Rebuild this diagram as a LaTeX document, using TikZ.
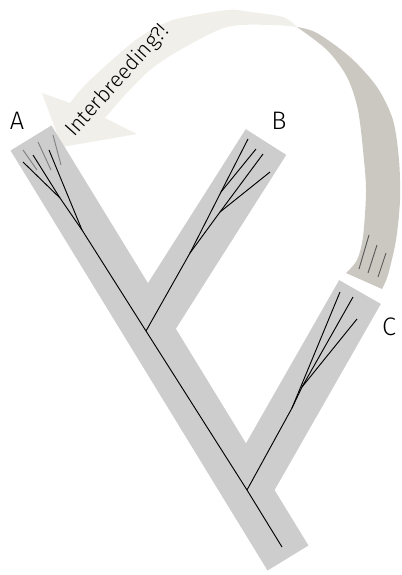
\documentclass[tikz,border=0pt]{standalone}
\usepackage{fontspec}
\setmainfont{Fira Sans Light}
\usetikzlibrary{positioning}
\definecolor{treegray}{RGB}{205,205,205}
\definecolor{ribbonlight}{RGB}{240,239,233}
\definecolor{ribbondark}{RGB}{203,200,193}
\begin{document}
\begin{tikzpicture}[x=0.75pt, y=-0.75pt,
    band/.style={draw=treegray, line width=36pt},
    lineage/.style={draw=black, line width=0.7pt},
    faint/.style={draw=gray, line width=0.7pt},
    trace/.style={draw=black!65, line width=0.7pt},
    lbl/.style={font=\fontsize{19}{19}\selectfont, inner sep=0pt}]
  \useasboundingbox (0,0) rectangle (401,575);

  % Interbreeding ribbon (back side)
  \fill[ribbondark] plot[smooth] coordinates {(297,27) (317,33) (350,57) (377,87) (393,120) (399,160) (400,200) (396,240) (388,275) (382,289)}
    -- (346,273) -- plot[smooth] coordinates {(346,273) (357,260) (363,237) (366,193) (364,160) (358,110) (347,77) (327,50) (297,27)} -- cycle;
  % Interbreeding ribbon (front side, arrow)
  \fill[ribbonlight] plot[smooth] coordinates {(297,27) (283,17) (250,12) (227,10) (173,20) (140,37) (112,60) (85,85) (70,103)}
    -- (42,93) -- (62,147) -- (137,134) -- (105,118)
    -- plot[smooth] coordinates {(105,118) (125,95) (150,70) (180,50) (227,27) (273,25) (297,27)} -- cycle;
  \node[rotate=48, anchor=base west, inner sep=0pt, font=\fontsize{16}{16}\selectfont] (ib) at (74,138) {Interbreeding?!};

  % Tree bands
  \coordinate (topA) at (31,138);
  \coordinate (bottom) at (288,558);
  \coordinate (topB) at (266,142);
  \coordinate (topC) at (360,292);
  \coordinate (jB) at (146,331);
  \coordinate (jC) at (247,490);
  \draw[band] (topA) -- (bottom);
  \draw[band] (topB) -- (jB);
  \draw[band] (topC) -- (jC);

  % Lineages of A
  \coordinate (a1) at (23,162);
  \coordinate (a2) at (33,155);
  \coordinate (a3) at (49,150);
  \coordinate (jA1) at (60,198);
  \coordinate (jA0) at (82,230);
  \coordinate (end) at (282,547);
  \draw[lineage] (a1) -- (jA1) -- (jA0) -- (jB) -- (jC) -- (end);
  \draw[lineage] (a2) -- (jA1);
  \draw[lineage] (a3) -- (jA0);
  \draw[faint] (23,150) -- (37,170);
  \draw[faint] (38,142) -- (51,170);
  \draw[faint] (53,135) -- (61,165);

  % Lineages of B
  \coordinate (b1) at (248,139);
  \coordinate (b2) at (256,149);
  \coordinate (b3) at (263,154);
  \coordinate (b4) at (270,172);
  \coordinate (jB1) at (221,192);
  \coordinate (jB2) at (220,212);
  \coordinate (jB0) at (190,253);
  \draw[lineage] (b1) -- (jB1) -- (jB0) -- (jB);
  \draw[lineage] (b2) -- (jB1);
  \draw[lineage] (b3) -- (jB2) -- (jB0);
  \draw[lineage] (b4) -- (jB2);

  % Lineages of C
  \coordinate (c1) at (340,292);
  \coordinate (c2) at (353,297);
  \coordinate (c3) at (357,319);
  \coordinate (jC1) at (302,387);
  \coordinate (jC2) at (292,408);
  \draw[lineage] (c1) -- (jC2) -- (jC);
  \draw[lineage] (c2) -- (jC1) -- (jC2);
  \draw[lineage] (c3) -- (jC1);

  % traces in the ribbon
  \draw[trace] (369,235) -- (359,269);
  \draw[trace] (377,245) -- (368,273);
  \draw[trace] (386,253) -- (378,277);

  \node[lbl] (A) at (17,121) {A};
  \node[lbl] (B) at (279,121) {B};
  \node[lbl] (C) at (389,327) {C};
\end{tikzpicture}
\end{document}
